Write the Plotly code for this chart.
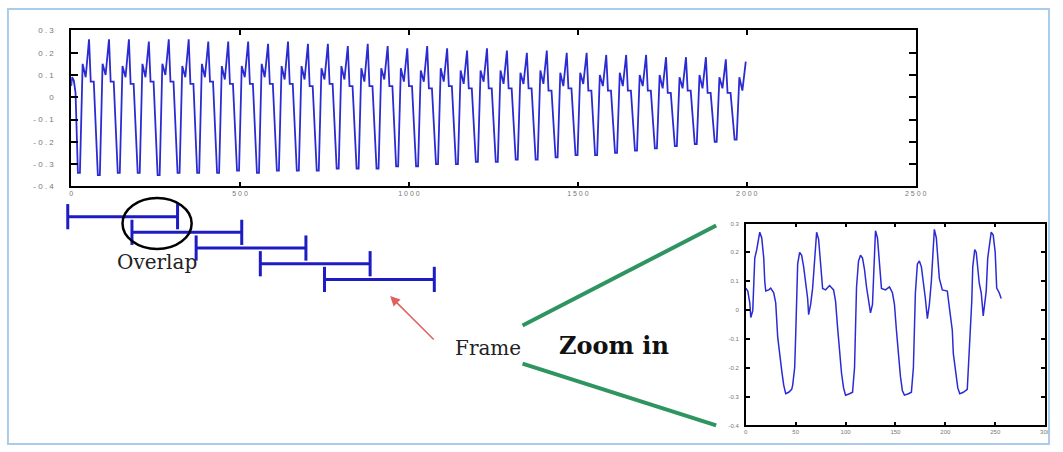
import plotly.graph_objects as go

W, H = 1063, 452

# ---------------- data: long recording (top panel) ----------------
top_start_x = [0, 3, 8, 13]
top_start_y = [0.05, 0.09, 0.075, 0.02]
top_peak_samples = [53, 112, 171, 230, 289, 348, 406, 465, 524, 583, 642, 701, 760, 819,
                    878, 937, 995, 1054, 1113, 1172, 1231, 1290, 1349, 1408, 1467, 1526,
                    1584, 1643, 1702, 1761, 1820, 1879, 1938, 1997]
top_peak = [0.26, 0.26, 0.26, 0.25, 0.26, 0.26, 0.25, 0.25, 0.25, 0.24, 0.25, 0.24, 0.24, 0.23,
            0.24, 0.23, 0.22, 0.23, 0.22, 0.21, 0.22, 0.21, 0.20, 0.21, 0.20, 0.20, 0.19, 0.19,
            0.19, 0.18, 0.18, 0.18, 0.17, 0.16]
top_second = [0.15, 0.15, 0.14, 0.15, 0.15, 0.14, 0.15, 0.14, 0.14, 0.15, 0.14, 0.14, 0.13, 0.14,
              0.13, 0.13, 0.13, 0.12, 0.13, 0.12, 0.12, 0.12, 0.11, 0.12, 0.11, 0.11, 0.10, 0.11,
              0.10, 0.10, 0.09, 0.10, 0.09, 0.09]
top_dip = [0.09, 0.10, 0.09, 0.09, 0.10, 0.09, 0.09, 0.08, 0.09, 0.09, 0.08, 0.08, 0.08, 0.08,
           0.07, 0.08, 0.07, 0.07, 0.07, 0.06, 0.07, 0.06, 0.06, 0.06, 0.05, 0.06, 0.05, 0.05,
           0.05, 0.04, 0.04, 0.04, 0.04, 0.03]
top_trough = [-0.34, -0.35, -0.34, -0.34, -0.35, -0.34, -0.34, -0.34, -0.33, -0.34, -0.33, -0.33,
              -0.33, -0.32, -0.32, -0.32, -0.31, -0.31, -0.30, -0.30, -0.29, -0.29, -0.28, -0.28,
              -0.27, -0.26, -0.26, -0.25, -0.24, -0.23, -0.22, -0.21, -0.20, -0.19]
top_shoulder = [0.07, 0.07, 0.06, 0.07, 0.07, 0.06, 0.07, 0.06, 0.06, 0.06, 0.06, 0.05, 0.06,
                0.05, 0.05, 0.05, 0.05, 0.04, 0.05, 0.04, 0.04, 0.04, 0.04, 0.03, 0.04, 0.03,
                0.03, 0.03, 0.03, 0.02, 0.03, 0.02, 0.02]
top_xticks = [0, 500, 1000, 1500, 2000, 2500]
top_yticks = [0.3, 0.2, 0.1, 0, -0.1, -0.2, -0.3, -0.4]

# ---------------- data: zoomed segment (inset) ----------------
inset_x = [0, 2, 4, 5, 7, 8, 9, 11, 13, 14, 16, 18, 19, 20, 23, 25, 28, 30, 32, 34, 36, 38, 40,
           43, 46, 47, 49, 50, 51, 52, 54, 56, 58, 60, 62, 63, 65, 67, 69, 71, 73, 75, 77, 80,
           84, 88, 90, 92, 94, 96, 98, 100, 104, 107, 109, 110, 111, 113, 115, 117, 119, 121,
           123, 125, 127, 128, 130, 132, 134, 136, 140, 144, 147, 149, 151, 153, 155, 157, 159,
           163, 166, 168, 169, 170, 172, 174, 176, 178, 180, 182, 184, 186, 187, 189, 191, 194,
           197, 200, 202, 204, 207, 208, 210.5, 212.5, 214.5, 218, 222, 224.5, 226.5, 227.5,
           229.5, 231, 234, 236, 238, 241, 242.5, 246, 248, 250, 251.5, 254, 256]
inset_y = [0.076, 0.066, 0.025, -0.026, -0.002, 0.10, 0.18, 0.21, 0.26, 0.27, 0.25, 0.18, 0.10,
           0.066, 0.07, 0.076, 0.06, 0.025, -0.094, -0.16, -0.21, -0.26, -0.29,
           -0.285, -0.275, -0.26, -0.20, -0.09, 0.04, 0.16, 0.20, 0.19, 0.15, 0.09, 0.04, -0.016,
           0.02, 0.076, 0.18, 0.27, 0.245, 0.16, 0.075, 0.07,
           0.085, 0.07, 0.03, -0.06, -0.15, -0.22, -0.27, -0.295, -0.29, -0.285, -0.20, -0.06,
           0.08, 0.17, 0.19, 0.18, 0.14, 0.08,
           0.03, -0.01, 0.02, 0.10, 0.275, 0.25, 0.16, 0.075, 0.07, 0.08, 0.06, 0.02, -0.07,
           -0.16, -0.23, -0.28, -0.295,
           -0.29, -0.285, -0.20, -0.06, 0.06, 0.16, 0.17, 0.15, 0.10, 0.04, -0.03, 0.02, 0.10,
           0.18, 0.28, 0.25, 0.11,
           0.07, 0.066, 0.066, 0.01, -0.07, -0.15, -0.22, -0.27, -0.29, -0.285, -0.275, -0.13,
           0.03, 0.15,
           0.21, 0.20, 0.093, 0.06, -0.02, 0.066, 0.18, 0.27, 0.26, 0.20, 0.076, 0.06, 0.04]
inset_xticks = [0, 50, 100, 150, 200, 250, 300]
inset_yticks = [0.3, 0.2, 0.1, 0, -0.1, -0.2, -0.3, -0.4]

# ---------------- data: analysis frames ----------------
frame_start = [-10, 180, 370, 560, 750]
frame_end = [315, 505, 695, 885, 1075]
frame_row = [0, 1, 2, 3, 4]

# ---------------- build top waveform from read key points ----------------
top_x = list(top_start_x)
top_y = list(top_start_y)
for k, P in enumerate(top_peak_samples):
    top_x += [P - 33, P - 27, P - 19, P - 10, P]
    top_y += [top_trough[k], top_trough[k], top_second[k], top_dip[k], top_peak[k]]
    if k < len(top_shoulder):
        top_x += [P + 5, P + 14]
        top_y += [top_shoulder[k], top_shoulder[k]]


def spaced(v):
    s = f"{v:g}"
    return "\u00a0".join(list(s))


wave_color = "#2b2bd3"
frame_color = "#1c1cc2"
tick_font = dict(family="Liberation Sans", size=7, color="#777777")

fig = go.Figure()
fig.add_trace(go.Scatter(x=top_x, y=top_y, mode="lines", xaxis="x", yaxis="y",
                         line=dict(color=wave_color, width=1.8), hoverinfo="skip"))
fig.add_trace(go.Scatter(x=inset_x, y=inset_y, mode="lines", xaxis="x2", yaxis="y2",
                         line=dict(color=wave_color, width=1.5), hoverinfo="skip"))
for s, e, r in zip(frame_start, frame_end, frame_row):
    fig.add_trace(go.Scatter(x=[s, e], y=[r, r], mode="lines+markers", xaxis="x3", yaxis="y3",
                             line=dict(color=frame_color, width=3),
                             marker=dict(symbol="line-ns", size=18,
                                         line=dict(color=frame_color, width=3)),
                             cliponaxis=False, hoverinfo="skip"))

px_per_sample = (925 - 70) / 2500.0
x3_left = 70 - 100 * px_per_sample

fig.update_layout(
    width=W, height=H, margin=dict(l=0, r=0, t=0, b=0),
    paper_bgcolor="white", plot_bgcolor="rgba(0,0,0,0)", showlegend=False,
    xaxis=dict(domain=[70 / W, 925 / W], range=[0, 2500], anchor="y",
               showline=True, linecolor="black", linewidth=1.5, mirror="ticks",
               ticks="inside", ticklen=5, tickcolor="black", tickwidth=1.5,
               tickvals=top_xticks, ticktext=[spaced(v) for v in top_xticks],
               tickfont=tick_font, showgrid=False, zeroline=False),
    yaxis=dict(domain=[1 - 186 / H, 1 - 27 / H], range=[-0.4, 0.3], anchor="x",
               showline=True, linecolor="black", linewidth=1.5, mirror="ticks",
               ticks="inside", ticklen=7, tickcolor="black", tickwidth=1.5,
               tickvals=top_yticks, ticktext=[spaced(v) for v in top_yticks],
               tickfont=dict(family="Liberation Sans", size=8, color="#777777"),
               ticklabelstandoff=14, showgrid=False, zeroline=False),
    xaxis2=dict(domain=[753 / W, 1056 / W], range=[0, 300], anchor="y2",
                showline=True, linecolor="black", linewidth=1.5, mirror="ticks",
                ticks="inside", ticklen=4, tickcolor="black", tickwidth=1.5,
                tickvals=inset_xticks, ticktext=[str(v) for v in inset_xticks],
                tickfont=dict(family="Liberation Sans", size=6, color="#777777"),
                showgrid=False, zeroline=False),
    yaxis2=dict(domain=[1 - 430 / H, 1 - 224 / H], range=[-0.4, 0.3], anchor="x2",
                showline=True, linecolor="black", linewidth=1.5, mirror="ticks",
                ticks="inside", ticklen=4, tickcolor="black", tickwidth=1.5,
                tickvals=inset_yticks, ticktext=[f"{v:g}" for v in inset_yticks],
                tickfont=dict(family="Liberation Sans", size=6, color="#777777"),
                ticklabelstandoff=4, showgrid=False, zeroline=False),
    xaxis3=dict(domain=[x3_left / W, 925 / W], range=[-100, 2500], anchor="y3",
                visible=False),
    yaxis3=dict(domain=[1 - 306 / H, 1 - 190 / H], range=[5.5625, -1.6875], anchor="x3",
                visible=False),
)

shapes = [
    # picture border
    dict(type="rect", xref="paper", yref="paper", x0=6 / W, x1=1060 / W,
         y0=1 - 449 / H, y1=1 - 5 / H, line=dict(color="#aacbe9", width=2)),
    # overlap ellipse
    dict(type="circle", xref="paper", yref="paper", x0=122 / W, x1=192 / W,
         y0=1 - 250 / H, y1=1 - 198 / H, line=dict(color="black", width=2.5)),
    # zoom lines
    dict(type="line", xref="paper", yref="paper", x0=527 / W, y0=1 - 328 / H,
         x1=723 / W, y1=1 - 226 / H, line=dict(color="#2f9560", width=4)),
    dict(type="line", xref="paper", yref="paper", x0=527 / W, y0=1 - 367 / H,
         x1=723 / W, y1=1 - 430 / H, line=dict(color="#2f9560", width=4)),
]
fig.update_layout(shapes=shapes)

annotations = [
    dict(text="Overlap", x=157 / W, y=1 - 263 / H, xref="paper", yref="paper",
         xanchor="center", yanchor="middle", showarrow=False,
         font=dict(family="DejaVu Serif", size=20, color="#222222")),
    dict(text="Frame", x=492 / W, y=1 - 351 / H, xref="paper", yref="paper",
         xanchor="center", yanchor="middle", showarrow=False,
         font=dict(family="DejaVu Serif", size=20, color="#222222")),
    dict(text="<b>Zoom in</b>", x=620 / W, y=1 - 348 / H, xref="paper", yref="paper",
         xanchor="center", yanchor="middle", showarrow=False,
         font=dict(family="DejaVu Serif", size=24, color="#111111")),
    dict(text="", x=393 / W, y=1 - 298 / H, xref="paper", yref="paper",
         showarrow=True, ax=45, ay=45, arrowhead=2, arrowsize=1.3, arrowwidth=1.5,
         arrowcolor="#e06060"),
]
fig.update_layout(annotations=annotations)

fig.write_html("out.html")
